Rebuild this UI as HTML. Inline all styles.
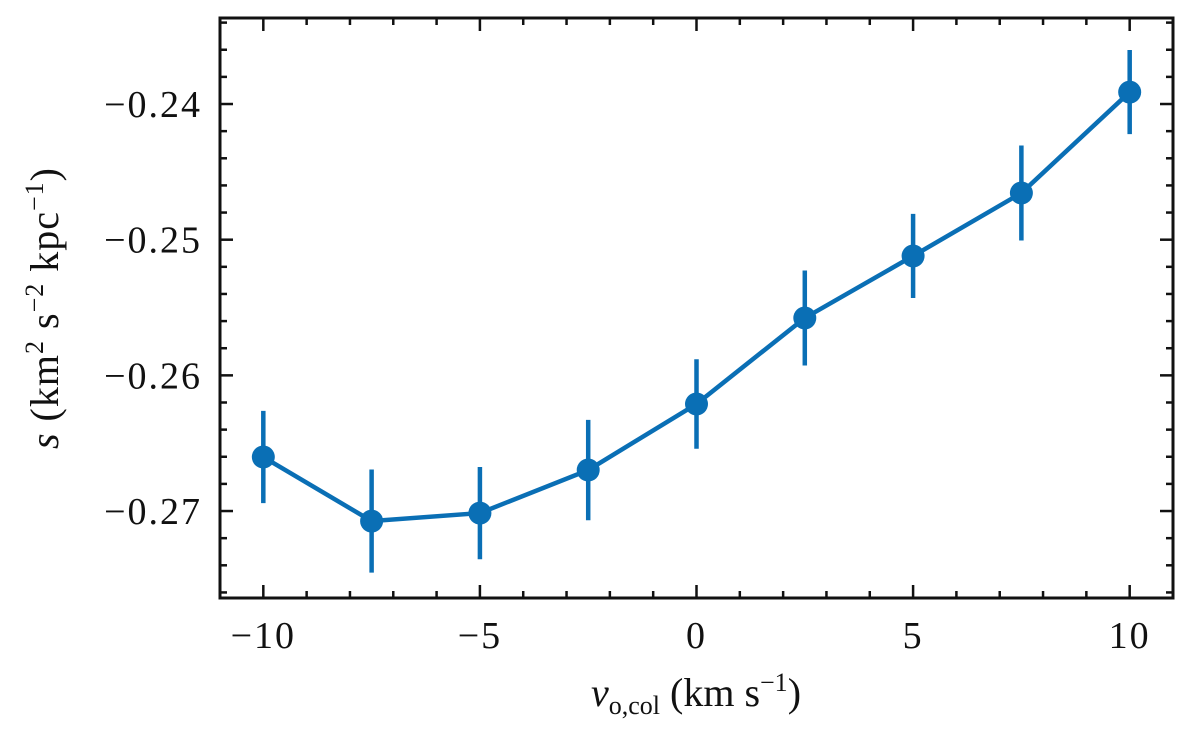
<!DOCTYPE html>
<html><head><meta charset="utf-8"><style>
body{margin:0;background:#fff;width:1200px;height:740px;overflow:hidden}
text{font-family:"Liberation Serif","DejaVu Serif",serif;fill:#111}
</style></head><body>
<svg id="chart" width="1200" height="740" xmlns="http://www.w3.org/2000/svg"></svg>
<script>
const xValues=[-10,-7.5,-5,-2.5,0,2.5,5,7.5,10];
const yValues=[-0.26602,-0.27074,-0.27015,-0.26698,-0.26211,-0.25577,-0.25120,-0.24656,-0.23912];
const yErrors=[0.0034,0.0038,0.0034,0.0037,0.0033,0.0035,0.0031,0.0035,0.0031];
const xTicks=[-10,-5,0,5,10];
const xTickLabels=["\u221210","\u22125","0","5","10"];
const yTicks=[-0.24,-0.25,-0.26,-0.27];
const yTickLabels=["\u22120.24","\u22120.25","\u22120.26","\u22120.27"];

const L=220,R=1173,T=18,B=598;
const xMin=-11,xMax=11,yMin=-0.27641,yMax=-0.23366;
const sx=v=>L+(v-xMin)/(xMax-xMin)*(R-L);
const sy=v=>B-(v-yMin)/(yMax-yMin)*(B-T);
const svg=document.getElementById('chart');
const NS='http://www.w3.org/2000/svg';
function mk(tag,attrs,parent){const e=document.createElementNS(NS,tag);for(const k in attrs)e.setAttribute(k,attrs[k]);(parent||svg).appendChild(e);return e;}

const axes=mk('g',{});


for(let v=-11;v<=11;v+=1){const x=sx(v);const major=v%5===0;const len=major?13:7;
 mk('line',{x1:x,x2:x,y1:B,y2:B-len,stroke:'#111','stroke-width':2.5},axes);
 mk('line',{x1:x,x2:x,y1:T,y2:T+len,stroke:'#111','stroke-width':2.5},axes);}
for(let i=0;i<=21;i++){const v=-0.276+i*0.002;if(v>yMax)break;const y=sy(v);const major=Math.abs(Math.round(v*1000)%10)===0;const len=major?13:7;
 mk('line',{x1:L,x2:L+len,y1:y,y2:y,stroke:'#111','stroke-width':2.5},axes);
 mk('line',{x1:R,x2:R-len,y1:y,y2:y,stroke:'#111','stroke-width':2.5},axes);}
mk('rect',{x:L,y:T,width:R-L,height:B-T,fill:'none',stroke:'#111','stroke-width':3},axes);

xTicks.forEach((v,i)=>{const t=mk('text',{x:sx(v),y:B+50,'text-anchor':'middle','font-size':38,'letter-spacing':2},axes);t.textContent=xTickLabels[i];
 });
yTicks.forEach((v,i)=>{const t=mk('text',{x:L-18,y:sy(v)+13,'text-anchor':'end','font-size':38,'letter-spacing':2},axes);t.textContent=yTickLabels[i];
 });

const xt=mk('text',{x:696,y:706,'text-anchor':'middle','font-size':40});


xt.innerHTML='<tspan font-style="italic">v</tspan><tspan font-size="26" dy="8">o,col</tspan><tspan dy="-8"> (km s</tspan><tspan font-size="26" dy="-15">\u22121</tspan><tspan dy="15">)</tspan>';
const yt=mk('text',{x:0,y:0,'text-anchor':'middle','font-size':40,'letter-spacing':1,transform:'translate(58,308) rotate(-90)'});


yt.innerHTML='<tspan font-style="italic">s</tspan> (km<tspan font-size="26" dy="-15">2</tspan><tspan dy="15"> s</tspan><tspan font-size="26" dy="-15">\u22122</tspan><tspan dy="15"> kpc</tspan><tspan font-size="26" dy="-15">\u22121</tspan><tspan dy="15">)</tspan>';

const C='#0a6fb5';
const series=mk('g',{});


xValues.forEach((v,i)=>{const e=mk('line',{x1:sx(v),x2:sx(v),y1:sy(yValues[i]-yErrors[i]),y2:sy(yValues[i]+yErrors[i]),stroke:C,'stroke-width':4.5},series);
 });
const pl=mk('polyline',{points:xValues.map((v,i)=>sx(v)+','+sy(yValues[i])).join(' '),fill:'none',stroke:C,'stroke-width':4.5},series);


xValues.forEach((v,i)=>{const c=mk('circle',{cx:sx(v),cy:sy(yValues[i]),r:11.5,fill:C},series);
 });
</script>
</body></html>
